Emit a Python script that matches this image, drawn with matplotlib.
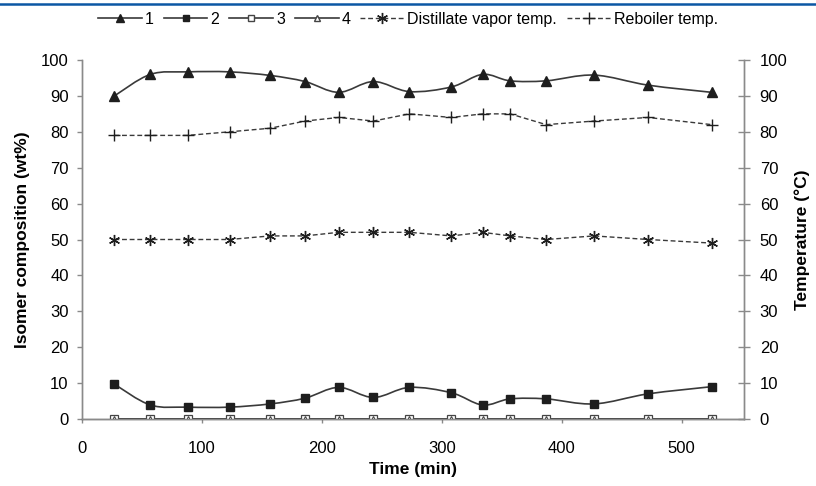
import numpy as np
import matplotlib
matplotlib.use('Agg')
import matplotlib.pyplot as plt
from matplotlib.path import Path
from matplotlib.patches import PathPatch
from matplotlib.lines import Line2D

plt.rcParams['font.family'] = ['Liberation Sans', 'DejaVu Sans']

# time (min)
time = [27, 57, 88, 123, 157, 186, 214, 243, 273, 308, 334, 357, 387, 427, 472, 525]
# isomer composition (wt%)
iso1 = [90.0, 96.0, 96.7, 96.7, 95.7, 94.0, 91.0, 94.0, 91.2, 92.5, 96.0, 94.2, 94.2, 95.8, 93.0, 91.0]
iso2 = [9.7, 3.9, 3.3, 3.3, 4.2, 5.8, 8.8, 6.0, 8.8, 7.3, 3.9, 5.6, 5.6, 4.2, 7.0, 9.0]
iso3 = [0.0] * 16
iso4 = [0.0] * 16
# temperatures (C)
distillate = [50, 50, 50, 50, 51, 51, 52, 52, 52, 51, 52, 51, 50, 51, 50, 49]
reboiler = [79, 79, 79, 80, 81, 83, 84, 83, 85, 84, 85, 85, 82, 83, 84, 82]

LINE = '#3a3a3a'
MARK = '#1e1e1e'
AXC = '#8a8a8a'
DASH = (0, (3.5, 2))


def smooth_path(x, y):
    # Excel-style smoothed line drawn as cubic bezier segments
    p = np.column_stack([x, y]).astype(float)
    verts = [p[0]]
    codes = [Path.MOVETO]
    n = len(p)
    for i in range(n - 1):
        p0 = p[i - 1] if i > 0 else p[i]
        p3 = p[i + 2] if i + 2 < n else p[i + 1]
        c1 = p[i] + (p[i + 1] - p0) / 6.0
        c2 = p[i + 1] - (p3 - p[i]) / 6.0
        verts += [c1, c2, p[i + 1]]
        codes += [Path.CURVE4] * 3
    return Path(verts, codes)


fig = plt.figure(figsize=(8.16, 4.86), dpi=100)
ax = fig.add_axes([0.1005, 0.1379, 0.8113, 0.7386])
ax2 = ax.twinx()

# smoothed solid lines
for ys in (iso1, iso2, iso3, iso4):
    ax.add_patch(PathPatch(smooth_path(time, ys), fill=False, edgecolor=LINE, lw=1.2, zorder=2))

ax.plot(time, iso1, ls='none', marker='^', ms=7, color=MARK, zorder=3)
ax.plot(time, iso2, ls='none', marker='s', ms=6, color=MARK, zorder=3)
ax.plot(time, iso3, ls='none', marker='s', ms=6, mfc='white', mec='#444444', mew=0.9, zorder=3)
ax.plot(time, iso4, ls='none', marker='^', ms=4, mfc='white', mec='#444444', mew=0.8, zorder=4)

ax2.plot(time, distillate, ls=DASH, lw=1.0, color=LINE, marker=(6, 2, 0), ms=8, mew=1.0, mec=MARK)
ax2.plot(time, reboiler, ls=DASH, lw=1.0, color=LINE, marker='+', ms=9, mew=1.0, mec=MARK)

for a in (ax, ax2):
    a.set_xlim(0, 552)
    a.set_ylim(0, 100)
    a.set_yticks(range(0, 101, 10))
    a.spines['top'].set_visible(False)
    for s in ('left', 'right', 'bottom'):
        a.spines[s].set_color(AXC)
        a.spines[s].set_linewidth(1.0)

ax.spines['bottom'].set_color('#555555')
ax.set_xticks(range(0, 501, 100))
ax.tick_params(axis='x', direction='out', length=3, width=1, color=AXC, pad=13, labelsize=12)
ax.tick_params(axis='y', direction='out', length=3.6, width=1, color=AXC, pad=6, labelsize=12)
ax2.tick_params(axis='y', direction='inout', length=8.6, width=1, color=AXC, pad=7, labelsize=12)

ax.set_xlabel('Time (min)', fontweight='bold', fontsize=12.5, labelpad=4)
ax.set_ylabel('Isomer composition (wt%)', fontweight='bold', fontsize=12.5, labelpad=8)
ax2.set_ylabel('Temperature (\u00b0C)', fontweight='bold', fontsize=12.5, labelpad=5)

# top blue rule
fig.add_artist(Line2D([0, 1], [0.992, 0.992], transform=fig.transFigure, color='#0b57a4', lw=1.8))

handles = [
    Line2D([], [], color=LINE, lw=1.2, marker='^', ms=6, mfc=MARK, mec=MARK),
    Line2D([], [], color=LINE, lw=1.2, marker='s', ms=5, mfc=MARK, mec=MARK),
    Line2D([], [], color=LINE, lw=1.2, marker='s', ms=5, mfc='white', mec='#444444'),
    Line2D([], [], color=LINE, lw=1.2, marker='^', ms=5, mfc='white', mec='#444444'),
    Line2D([], [], color=LINE, lw=1.0, ls=DASH, marker=(6, 2, 0), ms=8, mec=MARK),
    Line2D([], [], color=LINE, lw=1.0, ls=DASH, marker='+', ms=9, mec=MARK),
]
labels = ['1', '2', '3', '4', 'Distillate vapor temp.', 'Reboiler temp.']
fig.legend(handles, labels, loc='center', bbox_to_anchor=(0.5, 0.96), ncol=6, frameon=False,
           fontsize=11.5, handlelength=2.75, handletextpad=0.2, columnspacing=0.6)

fig.savefig('out.png', dpi=100)
